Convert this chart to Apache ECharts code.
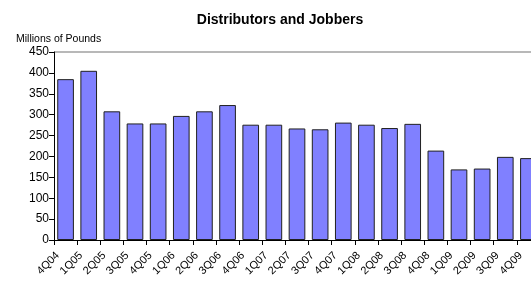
<!DOCTYPE html>
<html>
<head>
<meta charset="utf-8">
<script src="https://cdn.jsdelivr.net/npm/echarts@6/dist/echarts.min.js"></script>
<style>
  html, body { margin: 0; padding: 0; background: #fff; }
  #main { width: 531px; height: 284px; }
</style>
</head>
<body>
<div id="main"></div>
<script>
var quarters = ['4Q04', '1Q05', '2Q05', '3Q05', '4Q05', '1Q06', '2Q06', '3Q06', '4Q06', '1Q07',
    '2Q07', '3Q07', '4Q07', '1Q08', '2Q08', '3Q08', '4Q08', '1Q09', '2Q09', '3Q09', '4Q09'];
var pounds = [385, 405, 308, 279, 279, 297, 308, 323, 276, 276,
    267, 265, 281, 276, 268, 278, 214, 169, 171, 199, 196];
var yTicks = { min: 0, max: 450, step: 50 };

var myChart = echarts.init(document.getElementById('main'));

// only the top (450) line is drawn, the rest stay invisible
var splitColors = [];
for (var v = yTicks.min; v < yTicks.max; v += yTicks.step) splitColors.push('rgba(0,0,0,0)');
splitColors.push('#b8b8b8');

option = {
    animation: false,
    textStyle: { fontFamily: 'Liberation Sans, Arial, sans-serif' },
    title: [{
        text: 'Distributors and Jobbers',
        left: 275,
        top: 8,
        textAlign: 'center',
        textStyle: { fontSize: 14, fontWeight: 'bold', color: '#000' }
    }, {
        text: 'Millions of Pounds',
        left: 11,
        top: 29,
        textStyle: { fontSize: 10.5, fontWeight: 'normal', color: '#000' }
    }],
    grid: {
        left: 54,
        top: 52,
        bottom: 44,
        width: 486,   // plot runs past the right edge, last bar is cut off
        containLabel: false,
        outerBoundsMode: 'none'
    },
    xAxis: {
        type: 'category',
        data: quarters,
        axisLine: { lineStyle: { color: '#000', width: 1 } },
        axisTick: { show: true, length: 5, lineStyle: { color: '#000' } },
        axisLabel: {
            rotate: 45,
            margin: 6,
            padding: [0, 11, 0, 0],
            fontSize: 11,
            color: '#000',
            interval: 0
        }
    },
    yAxis: {
        type: 'value',
        min: yTicks.min,
        max: yTicks.max,
        interval: yTicks.step,
        axisLine: { show: true, lineStyle: { color: '#000', width: 1 } },
        axisTick: { show: true, length: 5, lineStyle: { color: '#000' } },
        axisLabel: { fontSize: 12, color: '#000', margin: 5 },
        splitLine: { show: true, lineStyle: { color: splitColors, width: 2 } }
    },
    series: [{
        type: 'bar',
        data: pounds,
        barCategoryGap: '28%',
        itemStyle: {
            color: '#8080ff',
            borderColor: '#202020',
            borderWidth: 1
        }
    }]
};

myChart.setOption(option);
</script>
</body>
</html>
